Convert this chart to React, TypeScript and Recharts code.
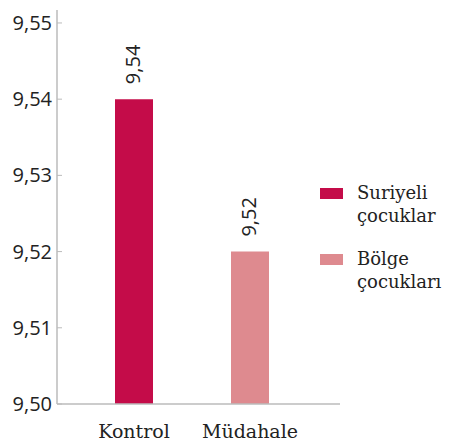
import React from "react";
import { BarChart, Bar, XAxis, YAxis, Cell, LabelList } from "recharts";

const categories = ["Kontrol", "Müdahale"];
const values = [9.54, 9.52];
const seriesNames = ["Suriyeli\nçocuklar", "Bölge\nçocukları"];
const colors = ["#c40c49", "#de8a8f"];
const yTicks = [9.5, 9.51, 9.52, 9.53, 9.54, 9.55];

const data = categories.map((c, i) => ({ name: c, value: values[i] }));

const numFont = "'Open Sans', sans-serif";
const textFont = "'DejaVu Serif', serif";

const fmt = (v: number) => v.toFixed(2).replace(".", ",");

const renderLabel = (props: any) => {
  const { x, y, width, value } = props;
  const cx = x + width / 2 + 6;
  const cy = y - 15;
  return (
    <text
      x={cx}
      y={cy}
      transform={`rotate(-90 ${cx} ${cy})`}
      textAnchor="start"
      fontFamily={numFont}
      fontSize={20}
      fill="#222"
    >
      {fmt(value)}
    </text>
  );
};

const LegendBox = () => (
  <div
    style={{
      position: "absolute",
      left: 320,
      top: 181,
      width: 129,
      fontFamily: textFont,
      fontSize: 18,
      color: "#222",
    }}
  >
    {seriesNames.map((n, i) => (
      <div key={i} style={{ display: "flex", alignItems: "flex-start", marginBottom: i === 0 ? 20 : 0 }}>
        <div style={{ width: 23, height: 11, background: colors[i], marginTop: 7, marginRight: 14, flexShrink: 0 }} />
        <div style={{ lineHeight: "23px", whiteSpace: "pre" }}>{n}</div>
      </div>
    ))}
  </div>
);

export default function App() {
  return (
    <div style={{ position: "absolute", left: 0, top: 0, width: 449, height: 441, background: "#fff" }}>
      <BarChart width={449} height={441} data={data} margin={{ top: 10, right: 109, left: 0, bottom: 0 }}>
        <YAxis
          width={57}
          domain={[9.5, 9.5517]}
          ticks={yTicks}
          allowDataOverflow
          interval={0}
          tickFormatter={fmt}
          axisLine={{ stroke: "#bbbbbb", strokeWidth: 1.5 }}
          tickLine={{ stroke: "#bbbbbb" }}
          tickSize={-5}
          tickMargin={10}
          tick={{ fontFamily: numFont, fontSize: 20, fill: "#222" }}
        />
        <XAxis
          dataKey="name"
          height={37}
          padding={{ left: 19, right: 32 }}
          axisLine={{ stroke: "#bbbbbb", strokeWidth: 1.5 }}
          tickLine={false}
          tickMargin={15}
          tick={{ fontFamily: textFont, fontSize: 19, fill: "#222" }}
        />
        <Bar dataKey="value" barSize={38} isAnimationActive={false}>
          {data.map((d, i) => (
            <Cell key={i} fill={colors[i]} />
          ))}
          <LabelList dataKey="value" content={renderLabel} />
        </Bar>
      </BarChart>
      <LegendBox />
    </div>
  );
}
